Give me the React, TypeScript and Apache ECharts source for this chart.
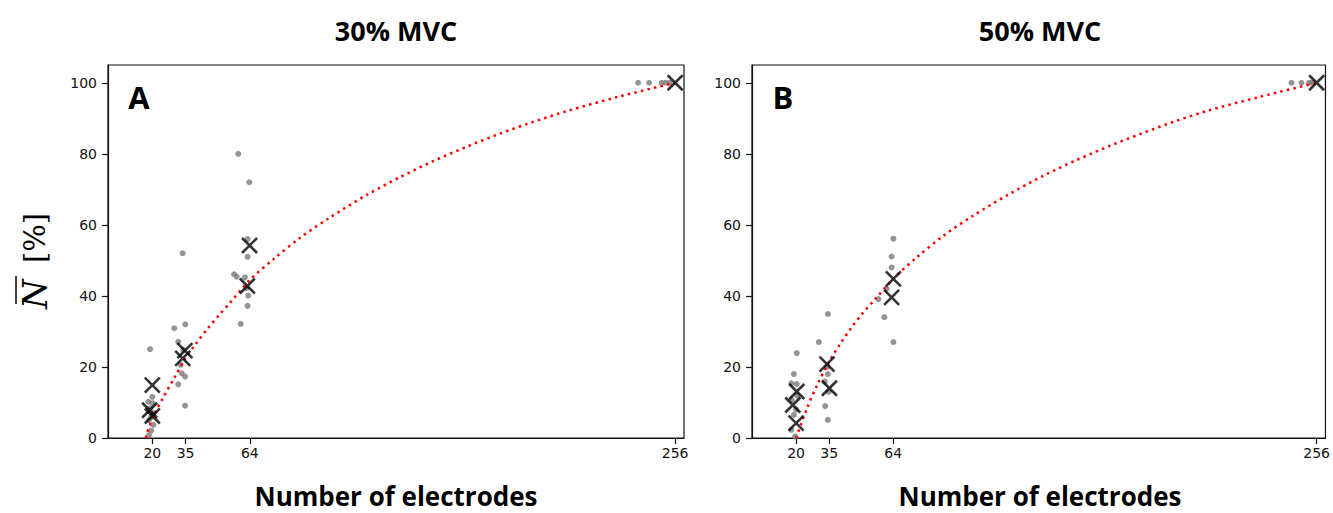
import React, { useEffect, useRef } from "react";
import * as echarts from "echarts";

const panelTitles = ["30% MVC", "50% MVC"];
const panelLetters = ["A", "B"];
const xTickValues = [20, 35, 64, 256];
const yTickValues = [0, 20, 40, 60, 80, 100];
const xAxisTitle = "Number of electrodes";

// Panel A (30% MVC): individual values [electrodes (jittered), N %]
const pointsA: number[][] = [
  [19, 25], [20, 11.6], [18.2, 10.2], [20.2, 9.8], [19, 8.4], [20.5, 7], [19.5, 6], [18.5, 5], [20.5, 3.7], [19.5, 2.1], [18.5, 0.8],
  [33.7, 52], [29.9, 30.9], [34.9, 32], [31.7, 27.1], [34, 24.8], [32.8, 20.6], [33.3, 18.2], [34.8, 17.3], [31.7, 15.1], [34.8, 9.1],
  [58.8, 80], [63.8, 72], [63, 56], [63, 51], [56.9, 46.1], [58.1, 45.4], [61.8, 45.2], [62.6, 42.2], [63.3, 40.1], [63, 37.2], [59.9, 32.1],
  [239.3, 100], [244.3, 100], [249.9, 100], [251.7, 100], [253.5, 100],
];
const meansA: number[][] = [
  [20, 14.9], [18.8, 7.8], [20, 6.2], [34.7, 24.6], [33.7, 22.4], [63.9, 54.2], [62.9, 42.8], [256, 100],
];
const fitA: number[][] = [
  [17, 0], [20, 5.5], [25, 11.5], [30, 17], [35, 22.5], [40, 26.8], [45, 30.8], [50, 34.5], [55, 38], [64, 44.5],
  [75, 50.5], [87, 56.5], [100, 62], [117, 68.5], [132, 73.5], [147, 78], [162, 82], [177, 85.7], [192, 89],
  [207, 92], [230, 96], [256, 100],
];

// Panel B (50% MVC)
const pointsB: number[][] = [
  [20.3, 23.9], [19, 18], [17.8, 15.4], [20.3, 15.2], [20.5, 12], [18, 10.7], [20, 8], [19, 6.5], [17.8, 2.3], [19.6, 0.4],
  [34.4, 34.9], [30.3, 27], [34.2, 20], [34.4, 18], [33, 15.9], [34.8, 13], [33.2, 9], [34.4, 5.1],
  [64.1, 56.1], [63.3, 51.1], [63.3, 48], [61, 42], [57.3, 39.1], [60, 34], [64.1, 27],
  [244.6, 100], [249.1, 100], [252.5, 100], [253.8, 100],
];
const meansB: number[][] = [
  [20.3, 13.1], [18.5, 9.3], [20, 4.2], [34, 20.8], [35.1, 14], [64.1, 44.8], [63.3, 39.6], [256, 100],
];
const fitB: number[][] = [
  [20, 0], [25, 8.5], [30, 15.5], [35, 21.5], [40, 26.5], [45, 31], [50, 35], [55, 38.5], [64, 44.8],
  [75, 51], [87, 57], [100, 62.5], [117, 68.8], [132, 73.8], [147, 78.2], [162, 82.2], [177, 85.8], [192, 89.2],
  [207, 92.2], [230, 96], [256, 100],
];

const GRID_TOP = 65;
const GRID_H = 373;
const GRID_W = 576;
const GRID_LEFTS = [108, 752];

export default function App() {
  const ref = useRef<HTMLDivElement>(null);
  useEffect(() => {
    if (!ref.current) return;
    const chart = echarts.init(ref.current, null, { renderer: "svg" });
    const tickFont = { fontSize: 14, color: "#111", fontFamily: "DejaVu Sans" };
    const grids = GRID_LEFTS.map((left) => ({
      left,
      top: GRID_TOP,
      width: GRID_W,
      height: GRID_H,
      show: true,
      borderColor: "#111",
      borderWidth: 1.2,
      backgroundColor: "transparent",
    }));
    const xAxes = GRID_LEFTS.map((_, i) => ({
      type: "value",
      gridIndex: i,
      min: 0,
      max: 260,
      axisLine: { show: true, onZero: false, lineStyle: { color: "#111", width: 1.2 } },
      axisTick: { show: true, length: 6, customValues: xTickValues, lineStyle: { color: "#111", width: 1.2 } },
      axisLabel: { customValues: xTickValues, margin: 8, ...tickFont },
      splitLine: { show: false },
    }));
    const yAxes = GRID_LEFTS.map((_, i) => ({
      type: "value",
      gridIndex: i,
      min: 0,
      max: 105,
      axisLine: { show: true, onZero: false, lineStyle: { color: "#111", width: 1.2 } },
      axisTick: { show: true, length: 6, customValues: yTickValues, lineStyle: { color: "#111", width: 1.2 } },
      axisLabel: { customValues: yTickValues, margin: 11, ...tickFont },
      splitLine: { show: false },
    }));
    const panels = [
      { pts: pointsA, means: meansA, fit: fitA },
      { pts: pointsB, means: meansB, fit: fitB },
    ];
    const series: any[] = [];
    panels.forEach((p, i) => {
      series.push({
        type: "scatter",
        xAxisIndex: i,
        yAxisIndex: i,
        data: p.pts,
        symbolSize: 6,
        itemStyle: { color: "#7a7a7a" },
        z: 2,
      });
      series.push({
        type: "line",
        xAxisIndex: i,
        yAxisIndex: i,
        data: p.fit,
        showSymbol: false,
        smooth: 0.3,
        lineStyle: { color: "#ff0000", width: 2.5, type: [2.5, 4.2], cap: "butt" },
        z: 3,
      });
      series.push({
        type: "scatter",
        xAxisIndex: i,
        yAxisIndex: i,
        data: p.means,
        symbol: "path://M0 0L10 10M10 0L0 10",
        symbolSize: 15,
        itemStyle: { color: "rgba(0,0,0,0)", borderColor: "#000", borderWidth: 2.6 },
        z: 4,
      });
    });
    const graphics: any[] = [];
    GRID_LEFTS.forEach((left, i) => {
      const cx = left + GRID_W / 2;
      graphics.push({
        type: "text",
        x: cx,
        y: 30,
        style: {
          text: panelTitles[i],
          fontFamily: "Open Sans",
          fontWeight: "bold",
          fontSize: 27,
          fill: "#000",
          align: "center",
          verticalAlign: "middle",
        },
      });
      graphics.push({
        type: "text",
        x: left + 31,
        y: 97,
        style: {
          text: panelLetters[i],
          fontFamily: "Open Sans",
          fontWeight: "bold",
          fontSize: 31,
          fill: "#000",
          align: "center",
          verticalAlign: "middle",
        },
      });
      graphics.push({
        type: "text",
        x: cx,
        y: 496,
        style: {
          text: xAxisTitle,
          fontFamily: "Open Sans",
          fontWeight: "bold",
          fontSize: 26,
          fill: "#000",
          align: "center",
          verticalAlign: "middle",
        },
      });
    });
    graphics.push({
      type: "group",
      x: 35,
      y: 262,
      rotation: Math.PI / 2,
      children: [
        {
          type: "text",
          x: -47,
          y: 0,
          style: {
            text: "N",
            fontFamily: "DejaVu Serif",
            fontStyle: "italic",
            fontSize: 34,
            fill: "#000",
            align: "left",
            verticalAlign: "middle",
          },
        },
        {
          type: "text",
          x: -1,
          y: 0,
          style: {
            text: "[%]",
            fontFamily: "DejaVu Serif",
            fontSize: 29,
            fill: "#000",
            align: "left",
            verticalAlign: "middle",
          },
        },
        {
          type: "line",
          shape: { x1: -42, y1: -19, x2: -14, y2: -19 },
          style: { stroke: "#000", lineWidth: 1.5 },
        },
      ],
    });
    chart.setOption({
      animation: false,
      backgroundColor: "#fff",
      grid: grids,
      xAxis: xAxes,
      yAxis: yAxes,
      series,
      graphic: graphics,
    });
    return () => chart.dispose();
  }, []);
  return (
    <div
      ref={ref}
      style={{ position: "absolute", left: 0, top: 0, width: 1333, height: 513 }}
    />
  );
}
